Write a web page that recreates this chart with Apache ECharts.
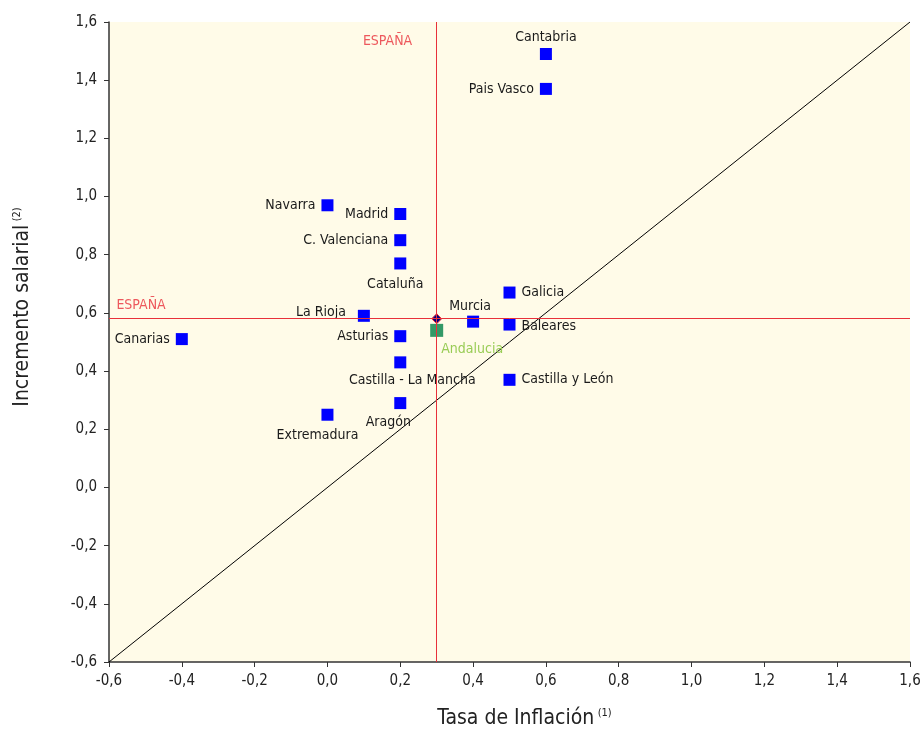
<!DOCTYPE html>
<html><head><meta charset="utf-8">
<script src="https://cdn.jsdelivr.net/npm/echarts@6/dist/echarts.min.js"></script>
<style>html,body{margin:0;padding:0;background:#fff}#c{width:920px;height:729px}</style>
</head><body><div id="c"></div>
<script>
const regions = ["Cantabria","Pais Vasco","Navarra","Madrid","C. Valenciana","Cataluña","Galicia","La Rioja","Murcia","Baleares","Asturias","Canarias","Castilla - La Mancha","Castilla y León","Aragón","Extremadura"];
const inflation = [0.6,0.6,0.0,0.2,0.2,0.2,0.5,0.1,0.4,0.5,0.2,-0.4,0.2,0.5,0.2,0.0];
const salary    = [1.49,1.37,0.97,0.94,0.85,0.77,0.67,0.59,0.57,0.56,0.52,0.51,0.43,0.37,0.29,0.25];
const andaluciaName = "Andalucia";
const andaluciaPoint = [0.3, 0.54];
const spainName = "ESPAÑA";
const spainPoint = [0.3, 0.58];
const axisTicks = [-0.6,-0.4,-0.2,0.0,0.2,0.4,0.6,0.8,1.0,1.2,1.4,1.6];

const FONT = '"Liberation Sans Narrow","DejaVu Sans Condensed","Roboto",sans-serif';
const labelStyle = {
  "Cantabria": {position:'top', distance:4},
  "Pais Vasco": {position:'left'},
  "Navarra": {position:'left'},
  "Madrid": {position:'left'},
  "C. Valenciana": {position:'left'},
  "Cataluña": {position:'bottom', offset:[-5,2]},
  "Galicia": {position:'right'},
  "La Rioja": {position:'left', offset:[-6,-3]},
  "Murcia": {position:'top', offset:[-3,4]},
  "Baleares": {position:'right', offset:[0,2]},
  "Asturias": {position:'left'},
  "Canarias": {position:'left'},
  "Castilla - La Mancha": {position:'bottom', offset:[12,-1]},
  "Castilla y León": {position:'right'},
  "Aragón": {position:'bottom', offset:[-12,0]},
  "Extremadura": {position:'bottom', offset:[-10,2]}
};
const regionData = regions.map((n,i)=>({name:n, value:[inflation[i], salary[i]],
  label: Object.assign({show:true, formatter:n}, labelStyle[n])}));

const fmt = v => (Math.round(v*10)/10).toFixed(1).replace('.',',');
const lo = axisTicks[0], hi = axisTicks[axisTicks.length-1];
const axisCommon = {
  type:'value', min:lo, max:hi, interval:0.2,
  axisLine:{onZero:false, lineStyle:{color:'#333', width:1.5}},
  axisTick:{show:true, length:5, lineStyle:{color:'#333'}},
  axisLabel:{formatter:fmt, color:'#222', fontSize:15, fontFamily:FONT, margin:12},
  splitLine:{show:false}
};
const red = '#E8303A';
const chart = echarts.init(document.getElementById('c'));
chart.setOption({
  animation:false,
  textStyle:{fontFamily:FONT},
  grid:{left:109, right:10, top:22, bottom:67, show:true, backgroundColor:'#FFFBE8', borderWidth:0,
        containLabel:false, outerBoundsMode:'none'},
  xAxis: Object.assign({}, axisCommon, {
    name:'{m|Tasa de Inflación} {s|(1)}', nameLocation:'middle', nameGap:46,
    nameTextStyle:{padding:[0,0,0,30], rich:{m:{fontSize:21,color:'#222',fontFamily:FONT}, s:{fontSize:11,color:'#222',fontFamily:FONT, padding:[0,0,10,0]}}}
  }),
  yAxis: Object.assign({}, axisCommon, {
    name:'{m|Incremento salarial} {s|(2)}', nameLocation:'middle', nameGap:76,
    nameTextStyle:{padding:[0,0,0,70], rich:{m:{fontSize:21,color:'#222',fontFamily:FONT}, s:{fontSize:11,color:'#222',fontFamily:FONT, padding:[0,0,10,0]}}}
  }),
  series:[
    {type:'line', data:[[lo,lo],[hi,hi]], symbol:'none', lineStyle:{color:'#000', width:1}, silent:true, z:1,
     markLine:{silent:true, symbol:'none', label:{show:false}, lineStyle:{color:red, width:1, type:'solid'},
       data:[{xAxis:spainPoint[0], lineStyle:{color:red, width:1, type:'solid'}},
             {yAxis:spainPoint[1], lineStyle:{color:red, width:1, type:'solid'}}]}},
    {type:'scatter', data:regionData, symbol:'rect', symbolSize:12, itemStyle:{color:'#0000FF', opacity:1},
     label:{show:true, color:'#1a1a1a', fontSize:14, fontFamily:FONT, distance:6}, z:3},
    {type:'scatter', data:[{name:andaluciaName, value:andaluciaPoint}], symbol:'rect', symbolSize:13, itemStyle:{color:'#339966', opacity:1},
     label:{show:true, formatter:andaluciaName, position:[11,18], color:'#99CC55', fontSize:14, fontFamily:FONT}, z:3},
    {type:'scatter', data:[{name:spainName, value:spainPoint}], symbol:'diamond', symbolSize:10,
     itemStyle:{color:'#000080', borderColor:red, borderWidth:1, opacity:1}, z:4},
    {type:'scatter', silent:true, symbolSize:0, z:2,
     data:[
       {value:[spainPoint[0]-0.135, hi-0.065], label:{show:true, position:'inside', formatter:spainName}},
       {value:[lo+0.088, spainPoint[1]+0.045], label:{show:true, position:'inside', formatter:spainName}}
     ],
     label:{color:red, fontSize:14, fontFamily:FONT}}
  ]
});
</script></body></html>
